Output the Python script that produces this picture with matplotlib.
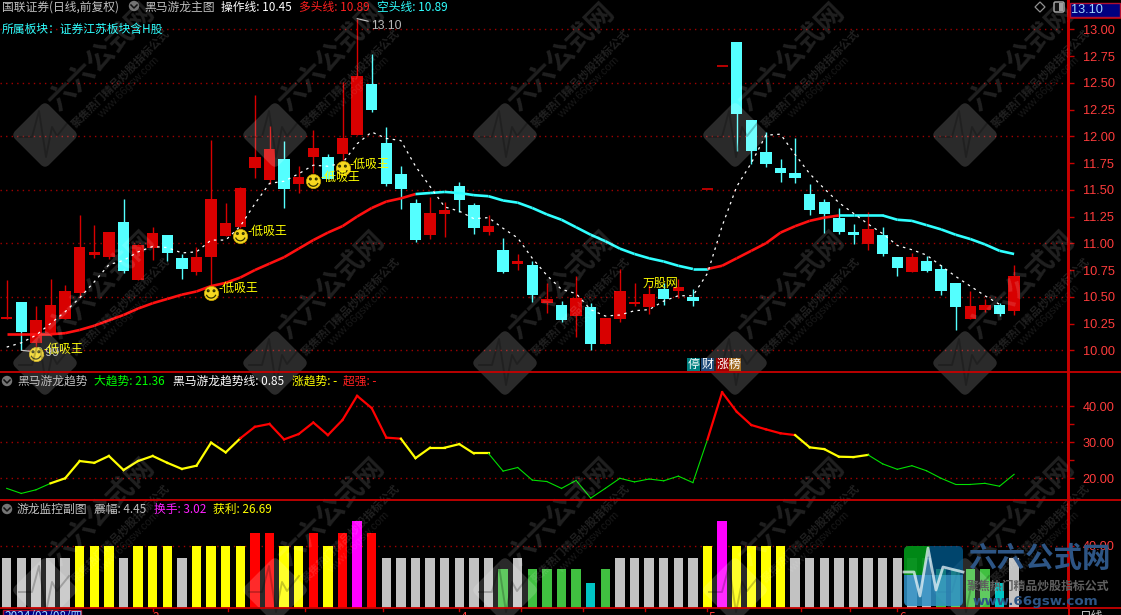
import numpy as np
import matplotlib
matplotlib.use("Agg")
import matplotlib.pyplot as plt
from matplotlib.patches import Circle, FancyBboxPatch, Polygon, Rectangle
from matplotlib.path import Path
from matplotlib.transforms import Affine2D

plt.rcParams['font.family'] = ['Noto Sans CJK SC', 'DejaVu Sans']

# ---------- data ----------
opens = [10.29,10.45,10.07,10.16,10.29,10.54,10.89,10.87,11.20,10.66,10.96,11.08,10.86,10.73,10.87,11.07,11.15,11.70,11.59,11.79,
         11.55,11.81,11.81,11.83,12.01,12.49,11.94,11.65,11.38,11.08,11.27,11.54,11.36,11.11,10.94,10.81,10.80,10.44,10.42,10.32,
         10.40,10.06,10.29,10.43,10.40,10.57,10.55,10.50,11.51,12.66,12.88,12.15,11.85,11.70,11.66,11.46,11.39,11.24,11.11,10.99,
         11.08,10.87,10.73,10.83,10.76,10.63,10.29,10.38,10.42,10.37]
closes = [10.31,10.17,10.28,10.42,10.55,10.97,10.92,11.11,10.74,10.98,11.10,10.91,10.76,10.87,11.41,11.19,11.52,11.81,11.88,11.51,
          11.62,11.89,11.60,11.98,12.56,12.25,11.55,11.51,11.03,11.28,11.31,11.40,11.14,11.16,10.73,10.83,10.52,10.48,10.28,10.49,
          10.06,10.30,10.55,10.45,10.53,10.48,10.59,10.46,11.51,12.66,12.21,11.86,11.74,11.66,11.61,11.31,11.27,11.11,11.08,11.13,
          10.90,10.77,10.87,10.74,10.55,10.40,10.41,10.42,10.34,10.69]
highs = [10.66,10.45,10.41,10.67,10.61,11.26,11.17,11.11,11.41,10.99,11.15,11.08,10.90,10.97,11.97,11.38,11.53,12.39,12.10,11.96,
         11.72,12.06,11.83,12.51,13.10,12.77,12.09,11.72,11.41,11.43,11.39,11.57,11.38,11.26,11.05,10.90,10.83,10.63,10.46,10.69,
         10.44,10.30,10.76,10.63,10.61,10.63,10.67,10.57,11.51,12.66,12.88,12.15,12.04,11.79,11.98,11.55,11.41,11.33,11.18,11.29,
         11.15,10.87,10.91,10.88,10.80,10.63,10.55,10.48,10.44,10.80]
lows = [10.29,10.00,10.03,10.13,10.29,10.50,10.86,10.85,10.72,10.66,10.84,10.83,10.67,10.70,10.60,11.07,11.14,11.61,11.55,11.33,
        11.47,11.66,11.60,11.78,12.01,12.23,11.54,11.32,11.01,11.04,11.06,11.29,11.09,11.08,10.72,10.75,10.45,10.35,10.26,10.12,
        10.00,10.06,10.26,10.41,10.34,10.42,10.49,10.41,11.51,12.66,11.86,11.74,11.71,11.57,11.56,11.26,11.10,11.09,10.99,10.94,
        10.88,10.69,10.73,10.73,10.52,10.19,10.29,10.36,10.32,10.33]
main_line = [10.15,10.15,10.15,10.15,10.16,10.19,10.23,10.28,10.33,10.39,10.44,10.48,10.52,10.55,10.60,10.63,10.68,10.75,10.81,10.87,
             10.95,11.03,11.10,11.16,11.25,11.33,11.39,11.42,11.46,11.47,11.48,11.47,11.45,11.44,11.40,11.38,11.33,11.27,11.22,11.15,
             11.08,11.02,10.95,10.90,10.86,10.83,10.79,10.76,10.76,10.79,10.86,10.93,11.00,11.10,11.16,11.21,11.24,11.26,11.26,11.26,
             11.26,11.22,11.21,11.17,11.13,11.08,11.04,10.99,10.93,10.90]
main_colors = ['#ff1010'] * 28 + ['#30ffff'] * 20 + ['#ff1010'] * 9 + ['#30ffff'] * 12
op_line = [10.03,10.07,10.14,10.25,10.36,10.49,10.64,10.80,10.84,10.92,10.97,10.96,10.91,10.92,11.03,11.03,11.16,11.37,11.56,11.58,
           11.65,11.73,11.72,11.75,11.93,12.04,11.98,11.96,11.72,11.53,11.34,11.30,11.23,11.24,11.14,11.05,10.86,10.70,10.57,10.53,
           10.38,10.32,10.33,10.37,10.38,10.46,10.51,10.51,10.72,11.16,11.53,11.75,12.01,12.02,11.83,11.65,11.51,11.38,11.28,11.18,
           11.09,10.98,10.94,10.89,10.79,10.69,10.60,10.51,10.43,np.nan]
trend = [17.2,15.8,16.8,18.6,20.0,24.8,24.3,26.2,22.3,24.8,26.2,24.3,22.6,23.5,29.9,27.2,31.1,34.3,35.1,30.8,
         32.3,35.5,32.0,36.2,42.9,39.5,31.3,31.0,25.6,28.5,28.5,29.5,26.9,26.9,22.0,23.0,19.5,19.1,17.2,19.4,
         14.5,17.2,20.0,19.0,19.8,19.3,20.6,18.8,30.8,43.9,38.5,34.8,33.6,32.5,32.0,28.6,28.1,26.0,25.9,26.5,
         24.0,22.5,23.5,22.1,20.0,18.3,18.3,18.6,17.8,21.1]
trend_stage = 'G' * 3 + 'Y' * 13 + 'R' * 11 + 'Y' * 6 + 'G' * 15 + 'R' * 6 + 'Y' * 5 + 'G' * 10
levels = [32,32,32,32,32,40,40,40,32,40,40,40,32,40,40,40,40,48,48,40,
          40,48,40,48,56,48,32,32,32,32,32,32,32,32,25,32,25,25,25,25,
          16,25,32,32,32,32,32,32,40,56,40,40,40,40,32,32,32,32,32,32,
          32,32,32,32,25,25,25,25,16,32]
level_colors = {16: '#00c4c4', 25: '#40c040', 32: '#c2c2c2', 40: '#ffff00', 48: '#ff0000', 56: '#ff00ff'}
signal_idx = [2, 14, 16, 21, 23]
signal_price = [9.965, 10.535, 11.07, 11.58, 11.70]
signal_label = '低吸王'
price_ticks = [10.00,10.25,10.50,10.75,11.00,11.25,11.50,11.75,12.00,12.25,12.50,12.75,13.00]
price_grid = [10.0,10.5,11.0,11.5,12.0,12.5,13.0]
trend_ticks = [20, 30, 40]
trend_minor = [25, 35]
level_ticks = [40]

RED = '#d80000'
CYAN = '#54ffff'
AXIS = '#c80000'
TICK = '#ff3c3c'
GRID = '#a00000'
W, H = 1121, 615
n = len(opens)
idx = np.arange(n)

fig = plt.figure(figsize=(W / 100, H / 100), dpi=100, facecolor='black')


def panel(y0, y1):
    return fig.add_axes([0, 1 - y1 / H, 1068 / W, (y1 - y0) / H], facecolor='black')


xlim = ((0 - 6.7) / 14.6, (1068 - 6.7) / 14.6)
ax1 = panel(0, 372)
ax2 = panel(372, 500)
ax3 = panel(500, 608)
for ax in (ax1, ax2, ax3):
    ax.set_xlim(*xlim)
    ax.set_xticks([])
    for s in ('left', 'top', 'bottom'):
        ax.spines[s].set_visible(False)
    ax.spines['right'].set_color(AXIS)
    ax.spines['right'].set_linewidth(1.4)
    ax.yaxis.tick_right()
    ax.tick_params(axis='y', which='both', colors=TICK, length=4.5, width=1, pad=6, labelsize=9.2)
    ax.tick_params(axis='y', which='both', color=AXIS)
    for lb in ax.get_yticklabels():
        lb.set_family('Liberation Sans')

# ---------- price panel ----------
ax1.set_ylim(13 - (372 - 29.3) / 107, 13 + 29.3 / 107)
ax1.set_yticks(price_ticks)
ax1.set_yticklabels(['%.2f' % v for v in price_ticks], family='Liberation Sans')
ax1.hlines(price_grid, *xlim, color=GRID, lw=1, linestyles=(0, (1, 3)), zorder=1)
for i in idx:
    up = closes[i] >= opens[i]
    c = RED if up else CYAN
    ax1.vlines(i, lows[i], highs[i], color=c, lw=1.0, zorder=3)
    if closes[i] == opens[i]:
        ax1.hlines(opens[i], i - 0.38, i + 0.38, color=c, lw=1.2, zorder=4)
    else:
        ax1.bar(i, abs(closes[i] - opens[i]), bottom=min(opens[i], closes[i]), width=0.77, color=c,
                linewidth=0, zorder=4)
for i in range(n - 1):
    ax1.plot(idx[i:i + 2], main_line[i:i + 2], color=main_colors[i], lw=1.9, zorder=5, solid_capstyle='butt')
ax1.plot(idx, op_line, color='white', lw=0.9, linestyle=(0, (2, 3.5)), zorder=5)

# extreme markers
hi_i = int(np.argmax(highs))
lo_i = int(np.argmin(lows))
ax1.annotate('%.2f' % max(highs), (hi_i, max(highs)), xytext=(10, -5), textcoords='offset points',
             color='#b8b8b8', fontsize=8.8, va='center', family='Liberation Sans', zorder=6,
             arrowprops=dict(arrowstyle='-', color='#c0c0c0', lw=0.8, shrinkA=0, shrinkB=0))
ax1.annotate('9.99', (lo_i, min(lows)), xytext=(10, -2), textcoords='offset points',
             color='#b8b8b8', fontsize=8.8, va='center', family='Liberation Sans', zorder=6,
             arrowprops=dict(arrowstyle='-', color='#c0c0c0', lw=0.8, shrinkA=0, shrinkB=0))

# smileys
face = Path.make_compound_path(Path.circle((-0.36, 0.28), 0.11), Path.circle((0.36, 0.28), 0.11),
                               Path.arc(200, 340).transformed(Affine2D().scale(0.62)))
ax1.scatter(signal_idx, signal_price, s=105, color='#f5d820', edgecolors='#d0a800', linewidths=0.5, zorder=7)
ax1.scatter(signal_idx, signal_price, s=52, marker=face, facecolors='none', edgecolors='#303000', linewidths=0.9, zorder=8)
for i, p in zip(signal_idx, signal_price):
    ax1.annotate('-' + signal_label, (i, p), xytext=(5.2, 3), textcoords='offset points', color='#ffff00',
                 fontsize=8.6, va='center', ha='left', zorder=9)
ax1.text(44.75, 10.63, '万股网', color='#ffff00', fontsize=8.6, ha='center', va='center', zorder=9)

# ---------- trend panel ----------
ax2.set_ylim(40 - (500 - 406.3) / 3.6, 40 + (406.3 - 372) / 3.6)
ax2.set_yticks(trend_ticks)
ax2.set_yticklabels(['%.2f' % v for v in trend_ticks], family='Liberation Sans')
ax2.set_yticks(trend_minor, minor=True)
ax2.hlines(trend_ticks, *xlim, color=GRID, lw=1, linestyles=(0, (1, 3)), zorder=1)
stage_color = {'G': '#00e000', 'Y': '#ffff00', 'R': '#ff0000'}
stage_width = {'G': 0.8, 'Y': 1.6, 'R': 1.6}
for i, st in enumerate(trend_stage):
    ax2.plot(idx[i:i + 2], trend[i:i + 2], color=stage_color[st], lw=stage_width[st], zorder=3)

# ---------- monitor panel ----------
ax3.set_ylim(0, 108 / 1.5625)
ax3.set_yticks(level_ticks)
ax3.set_yticklabels(['%.2f' % v for v in level_ticks], family='Liberation Sans')
ax3.hlines(level_ticks, *xlim, color=GRID, lw=1, linestyles=(0, (1, 3)), zorder=1)
ax3.bar(idx, levels, width=0.64, color=[level_colors[v] for v in levels], linewidth=0, zorder=3)

# ---------- pixel overlay: frame, headers, watermarks ----------
ov = fig.add_axes([0, 0, 1, 1], facecolor='none', zorder=10)
ov.set_xlim(0, W)
ov.set_ylim(H, 0)
ov.axis('off')

# watermarks
for cy in (135, 363, 590):
    for cx in (45, 275, 505, 735, 965):
        tr = Affine2D().rotate_deg(45).translate(cx, cy) + ov.transData
        ov.add_patch(FancyBboxPatch((-24, -24), 48, 48, boxstyle='round,pad=0,rounding_size=6',
                                    facecolor='white', edgecolor='white', lw=0, alpha=0.17, transform=tr, zorder=1))
        ov.plot([cx - 26, cx - 13, cx - 6, cx + 1, cx + 7, cx + 12, cx + 24],
                [cy + 2, cy + 2, cy - 24, cy + 22, cy - 8, cy + 1, cy - 14], color='black', lw=1.4, alpha=0.22, zorder=1)
        ov.text(cx + 57, cy - 77, '六六公式网', color='white', alpha=0.13, fontsize=20, fontweight='bold',
                rotation=45, rotation_mode='anchor', ha='center', va='center', zorder=1)
        ov.text(cx + 75, cy - 57, '聚焦热门精品炒股指标公式', color='white', alpha=0.13, fontsize=8, fontweight='bold',
                rotation=45, rotation_mode='anchor', ha='center', va='center', zorder=1)
        ov.text(cx + 84, cy - 48, 'www.66gsw.com', color='white', alpha=0.10, fontsize=8,
                rotation=45, rotation_mode='anchor', ha='center', va='center', zorder=1,
                family='Liberation Sans')

# frame lines
ov.plot([0, W], [372.3, 372.3], color=AXIS, lw=1.3, zorder=3)
ov.plot([0, W], [500.3, 500.3], color=AXIS, lw=1.3, zorder=3)
ov.plot([0, W], [608.3, 608.3], color=AXIS, lw=1.3, zorder=3)
ov.plot([1068.5, 1068.5], [0, H], color=AXIS, lw=1.4, zorder=3)
ov.plot([1068, W], [18, 18], color=AXIS, lw=1.2, zorder=3)

# price flag
ov.add_patch(Rectangle((1069.5, 2.5), 50, 14.5, facecolor='#000080', edgecolor='#b01030', lw=1, zorder=4))
ov.text(1071, 10, '13.10', color='#a0d8ff', fontsize=9.2, family='Liberation Sans', va='center', zorder=5)
ov.add_patch(Polygon([(1040, 2), (1045, 7), (1040, 12), (1035, 7)], closed=True, facecolor='none',
                     edgecolor='#909090', lw=0.9, zorder=5))
ov.add_patch(FancyBboxPatch((1054, 2), 10, 10, boxstyle='round,pad=0,rounding_size=1.5', facecolor='#101010',
                            edgecolor='#a0a0a0', lw=1.1, zorder=5))
ov.add_patch(Rectangle((1059, 3), 4, 8, facecolor='#a0a0a0', lw=0, zorder=6))


def hdr(x, y, s, c):
    ov.text(x, y, s, color=c, fontsize=8.5, va='center', ha='left', zorder=6)


def icon(x, y):
    ov.add_patch(Circle((x, y), 5.2, facecolor='#757575', edgecolor='none', zorder=5))
    ov.plot([x - 3, x, x + 3], [y - 1, y + 2, y - 1], color='#111111', lw=1.1, zorder=6)


hdr(2, 7, '国联证券(日线,前复权)', '#c0c0c0')
icon(134, 6)
hdr(144, 7, '黑马游龙主图', '#c0c0c0')
hdr(221, 7, '操作线: 10.45', '#ffffff')
hdr(299, 7, '多头线: 10.89', '#ff2020')
hdr(377, 7, '空头线: 10.89', '#30ffff')
hdr(2, 29, '所属板块：证券江苏板块含H股', '#30ffff')

icon(7, 381)
hdr(17, 381, '黑马游龙趋势', '#c0c0c0')
hdr(94, 381, '大趋势: 21.36', '#00ff00')
hdr(173, 381, '黑马游龙趋势线: 0.85', '#ffffff')
hdr(292, 381, '涨趋势: -', '#ffff00')
hdr(343, 381, '超强: -', '#ff2020')

icon(7, 509)
hdr(17, 509, '游龙监控副图', '#c0c0c0')
hdr(94, 509, '震幅: 4.45', '#c0c0c0')
hdr(154, 509, '换手: 3.02', '#ff20ff')
hdr(213, 509, '获利: 26.69', '#ffff00')

# tags
for x0, w, bg, s in [(687, 13, '#008080', '停'), (701, 13, '#1f4a78', '财'),
                     (716, 12.5, '#a00000', '涨'), (728.5, 12.5, '#a06a20', '榜')]:
    ov.add_patch(Rectangle((x0, 358), w, 13, facecolor=bg, lw=0, zorder=5))
    ov.text(x0 + w / 2, 364.5, s, color='white', fontsize=8.6, ha='center', va='center', zorder=6)

# date axis
for x in (153, 228, 305, 383, 459, 521, 583, 645, 707, 801, 850, 897):
    ov.plot([x, x], [608, 611], color=AXIS, lw=1, zorder=3)
ov.add_patch(Rectangle((2.5, 609.5), 78, 12, facecolor='#000080', edgecolor='#b01030', lw=1, zorder=4))
ov.text(4, 610, '2024/02/08/四', color='#a0d8ff', fontsize=8.5, va='top', zorder=5, clip_on=True)
for x, s in ((153, '3'), (461, '4'), (709, '5'), (899, '6')):
    ov.text(x, 611, s, color=TICK, fontsize=8.5, va='top', ha='left', zorder=5, clip_on=True)
ov.text(1092, 610, '日线', color='#d0d0d0', fontsize=8.5, va='top', ha='center', zorder=5, clip_on=True)

# corner logo
box = FancyBboxPatch((904, 546), 59, 60, boxstyle='round,pad=0,rounding_size=5', facecolor='#006098',
                     edgecolor='none', alpha=0.72, zorder=7)
ov.add_patch(box)
gr = Polygon([(904, 546), (930, 546), (922, 575), (904, 575)], closed=True, facecolor='#009a00', alpha=0.8, lw=0, zorder=7)
ov.add_patch(gr)
gr.set_clip_path(box)
lb = Polygon([(904, 575), (963, 575), (963, 606), (904, 606)], closed=True, facecolor='#50b4e8', alpha=0.5, lw=0, zorder=7)
ov.add_patch(lb)
lb.set_clip_path(box)
ov.plot([904, 914, 920, 928, 936, 943, 963], [572, 572, 596, 548, 590, 567, 572], color='#e8f4f8', lw=2, alpha=0.75, zorder=8)
ov.text(1039, 559, '六六公式网', color='#2d5585', fontsize=20.5, fontweight='bold', ha='center', va='center', zorder=8)
ov.text(1038, 586, '聚焦热门精品炒股指标公式', color='#606060', fontsize=8.6, fontweight='bold', ha='center', va='center', zorder=8)
ov.text(1035, 601, 'www.66gsw.com', color='#2d5585', fontsize=9.6, fontweight='bold', ha='center', va='center',
        family='DejaVu Sans', zorder=8)

fig.savefig('out.png', dpi=100, facecolor='black')
